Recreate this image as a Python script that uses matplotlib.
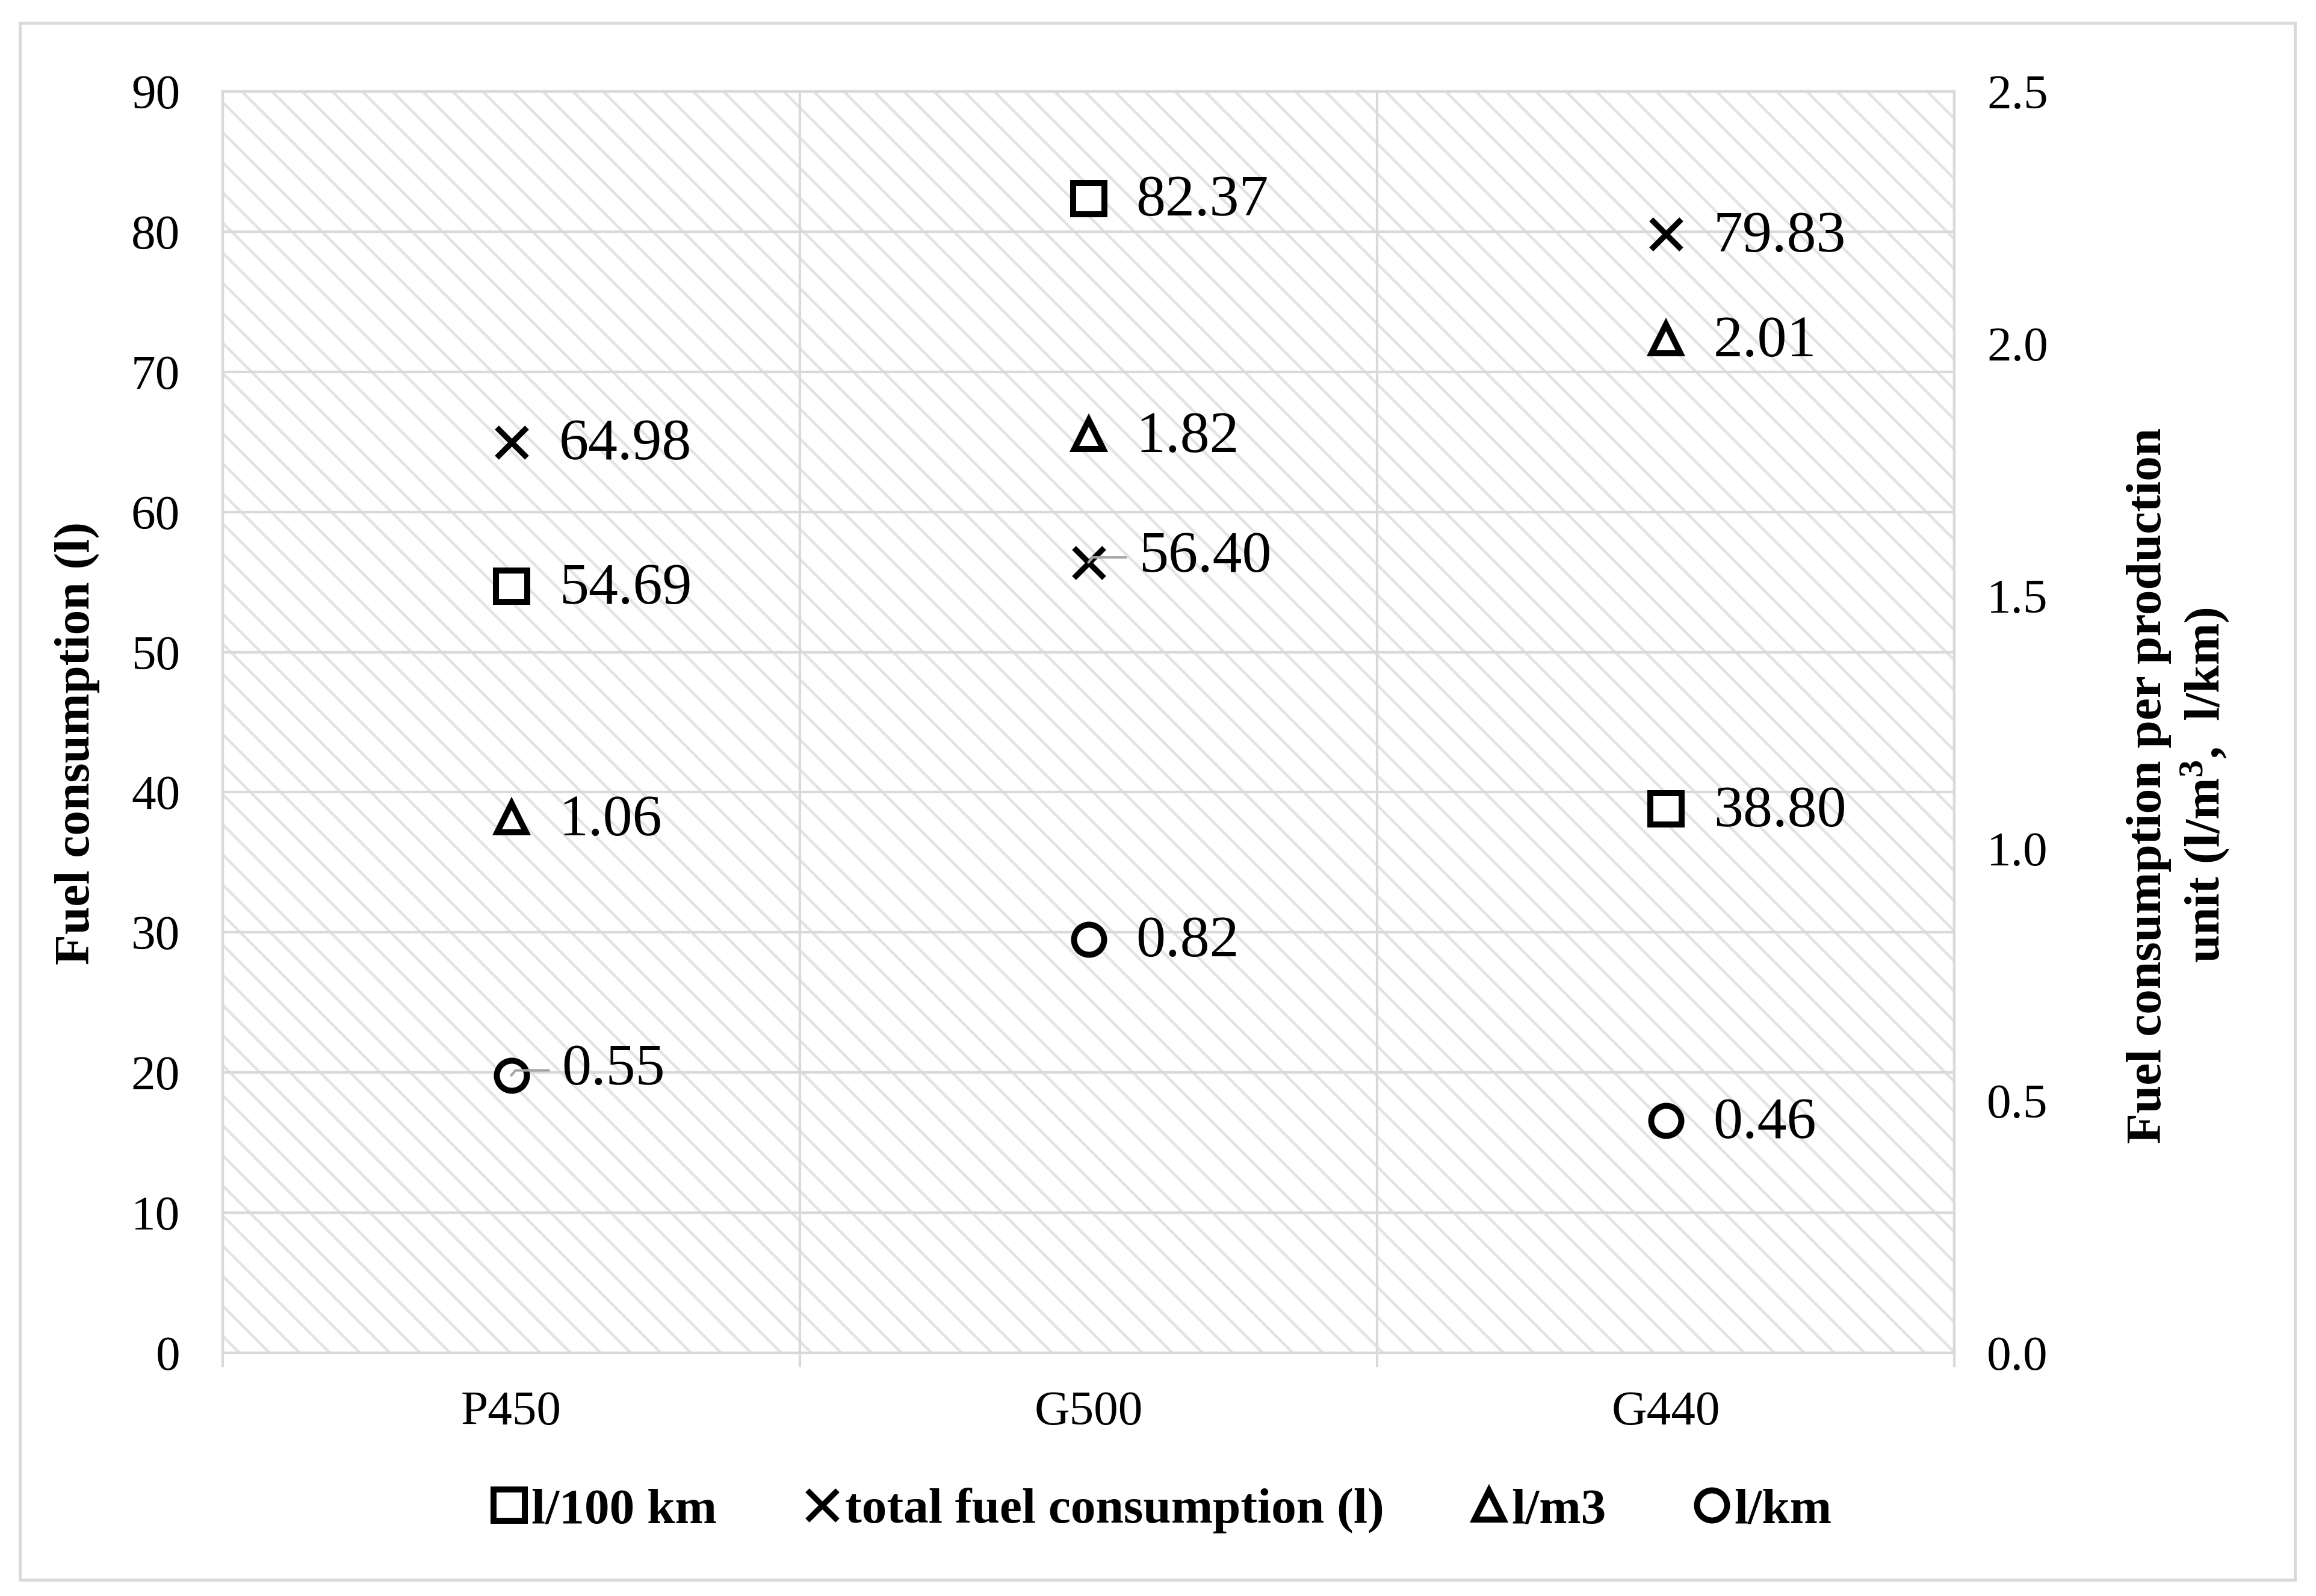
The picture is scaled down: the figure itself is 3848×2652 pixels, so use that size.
import matplotlib
matplotlib.use("Agg")
import matplotlib.pyplot as plt
from matplotlib.patches import Rectangle
from matplotlib.lines import Line2D

# data
categories = ["P450", "G500", "G440"]
per_100km = [54.69, 82.37, 38.80]      # left axis
total_fuel = [64.98, 56.40, 79.83]     # left axis
per_m3 = [1.06, 1.82, 2.01]            # right axis
per_km = [0.55, 0.82, 0.46]            # right axis

left_ticks = [0, 10, 20, 30, 40, 50, 60, 70, 80, 90]
right_ticks = [0.0, 0.5, 1.0, 1.5, 2.0, 2.5]

plt.rcParams["font.family"] = ["Liberation Serif", "DejaVu Serif"]
plt.rcParams["mathtext.default"] = "regular"
plt.rcParams["hatch.linewidth"] = 2.2

grid_c = "#d9d9d9"
dpi = 150
fig = plt.figure(figsize=(3848 / dpi, 2652 / dpi), dpi=dpi)

# chart border
fig.add_artist(Rectangle((33 / 3848, 1 - 2625 / 2652), (3813 - 33) / 3848, (2625 - 38) / 2652,
                         transform=fig.transFigure, fill=False, edgecolor=grid_c, lw=2.4))

ax = fig.add_axes([370 / 3848, 1 - 2248 / 2652, 2877 / 3848, 2096 / 2652])
ax2 = ax.twinx()

# hatched plot area
ax.add_patch(Rectangle((0, 0), 1, 1, transform=ax.transAxes, facecolor="white",
                       edgecolor="#e3e3e3", hatch="\\", lw=0, zorder=0.1))

x = list(range(len(categories)))
ax.set_xlim(-0.5, len(categories) - 0.5)
ax.set_ylim(0, 90)
ax2.set_ylim(0, 2.5)

ax.set_axisbelow(True)
ax.set_yticks(left_ticks)
ax.set_yticklabels([str(t) for t in left_ticks])
ax2.set_yticks(right_ticks)
ax2.set_yticklabels(["%.1f" % t for t in right_ticks])
ax.grid(axis="y", color=grid_c, lw=2.0)

bounds = [i - 0.5 for i in range(len(categories) + 1)]
ax.set_xticks(bounds)
ax.set_xticklabels([""] * len(bounds))
ax.set_xticks(x, minor=True)
ax.set_xticklabels(categories, minor=True)
ax.grid(axis="x", which="major", color=grid_c, lw=2.0)
ax.tick_params(axis="x", which="major", length=11.5, width=2.0, color=grid_c)
ax.tick_params(axis="x", which="minor", length=0, pad=30, labelsize=39)
ax.tick_params(axis="y", length=0, pad=34, labelsize=39)
ax2.tick_params(axis="y", length=0, pad=26, labelsize=39)

for a in (ax, ax2):
    for s in a.spines.values():
        s.set_color(grid_c)
        s.set_linewidth(2.0)

mk = dict(linestyle="none", color="black", markerfacecolor="white", markersize=25,
          markeredgewidth=4.8, zorder=5)
x_style = {**mk, "markersize": 24, "markeredgewidth": 4.5}
tri_style = {**mk, "markersize": 23}
circ_style = {**mk, "markersize": 24}

ax.plot(x, per_100km, marker="s", **mk)
ax.plot(x, total_fuel, marker="x", **x_style)
ax2.plot(x, per_m3, marker="^", **tri_style)
ax2.plot(x, per_km, marker="o", **circ_style)

lab_fs = 47


def put_labels(axis, values, shifted=()):
    for i, v in enumerate(values):
        if i in shifted:
            axis.annotate("%.2f" % v, (x[i], v), xytext=(40, 4), textcoords="offset points",
                          ha="left", va="center", fontsize=lab_fs, zorder=6,
                          arrowprops=dict(arrowstyle="-", color="#a6a6a6", lw=2.0,
                                          shrinkA=8, shrinkB=0, relpos=(0, 0.5),
                                          connectionstyle="angle,angleA=0,angleB=50,rad=0"))
        else:
            axis.annotate("%.2f" % v, (x[i], v), xytext=(38, -2.5), textcoords="offset points",
                          ha="left", va="center", fontsize=lab_fs, zorder=6)


put_labels(ax, per_100km)
put_labels(ax, total_fuel, shifted=(1,))
put_labels(ax2, per_m3)
put_labels(ax2, per_km, shifted=(0,))

# axis titles
fig.text(128 / 3848, 1 - 1235 / 2652, "Fuel consumption (l)", rotation=90,
         ha="center", va="center", fontsize=40, fontweight="bold")
fig.text(3620 / 3848, 1 - 1305 / 2652,
         "Fuel consumption per production\nunit (l/m$^{3}$,  l/km)", rotation=90,
         ha="center", va="center", fontsize=40, fontweight="bold", multialignment="center")

# legend
handles = [
    Line2D([], [], marker="s", **{**mk, "zorder": 2}),
    Line2D([], [], marker="x", **{**x_style, "zorder": 2}),
    Line2D([], [], marker="^", **{**tri_style, "zorder": 2}),
    Line2D([], [], marker="o", **{**circ_style, "zorder": 2}),
]
labels = ["l/100 km", "total fuel consumption (l)", "l/m3", "l/km"]
fig.legend(handles, labels, loc="center", bbox_to_anchor=(1930 / 3848, 1 - 2510 / 2652),
           ncol=4, frameon=False, prop={"size": 40, "weight": "bold"},
           handlelength=0.7, handletextpad=0.1, columnspacing=1.75)

fig.savefig("out.png", dpi=dpi, facecolor="white")
